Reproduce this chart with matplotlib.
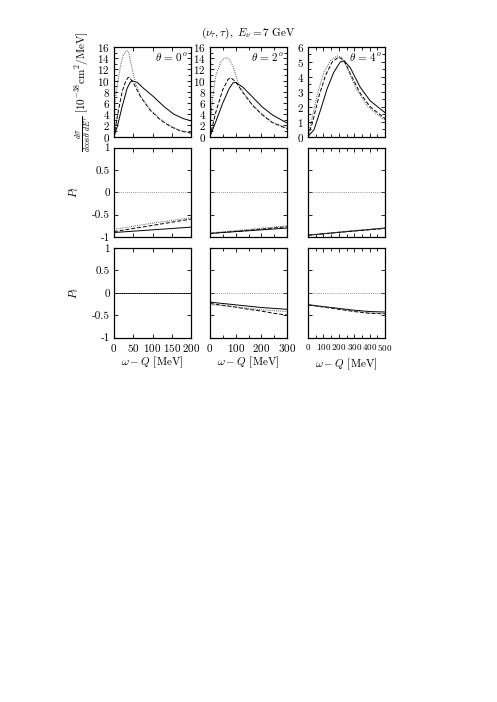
import matplotlib
matplotlib.use('Agg')
import matplotlib.pyplot as plt
from matplotlib.ticker import MultipleLocator

plt.rcParams['font.family'] = 'serif'
plt.rcParams['font.serif'] = ['cmr10']
plt.rcParams['mathtext.fontset'] = 'cm'
plt.rcParams['axes.unicode_minus'] = False
plt.rcParams['axes.formatter.use_mathtext'] = True
plt.rcParams['font.size'] = 8

# cross section, theta = 0, 2, 4 deg  (x in MeV, y in 1e-38 cm^2/MeV)
xs0_solid = [0, 8.6, 21, 34, 42, 47, 60, 77, 103, 129, 155, 180, 200]
ys0_solid = [0, 1.8, 5.3, 8.6, 9.7, 9.95, 9.7, 8.6, 7.1, 5.4, 4.0, 3.2, 2.8]
xs0_dash = [0, 8.6, 21, 30, 36, 40, 51, 69, 94, 120, 146, 172, 200]
ys0_dash = [0, 3.6, 8.0, 9.8, 10.5, 10.6, 9.5, 7.1, 4.7, 3.0, 1.8, 1.0, 0.6]
xs0_dot = [0, 1, 3, 8.6, 17, 24, 30, 35, 39, 47, 56, 69, 94, 120, 146, 172, 200]
ys0_dot = [0, 4, 6.5, 9.2, 12.7, 14.5, 15.2, 15.3, 14.8, 12.1, 9.5, 7.2, 4.8, 3.1, 1.9, 1.1, 0.7]

xs2_solid = [0, 23, 49, 75, 90, 98, 126, 165, 203, 242, 300]
ys2_solid = [0, 2.7, 5.9, 8.6, 9.6, 9.7, 8.9, 7.1, 5.3, 3.9, 2.4]
xs2_dash = [0, 23, 49, 70, 81, 100, 126, 165, 203, 242, 300]
ys2_dash = [0, 4.4, 8.3, 10.2, 10.5, 9.8, 8.0, 5.6, 3.9, 2.5, 1.4]
xs2_dot = [0, 3, 10, 23, 42, 55, 64, 75, 90, 100, 113, 126, 165, 203, 242, 300]
ys2_dot = [0, 3.5, 6.8, 11.0, 13.3, 14.0, 14.1, 13.8, 12.5, 11.0, 9.2, 8.1, 5.7, 4.0, 2.6, 1.5]

xs4_solid = [0, 39, 82, 124, 167, 210, 236, 275, 339, 403, 500]
ys4_solid = [0, 0.45, 1.8, 3.2, 4.3, 5.0, 5.07, 4.6, 3.3, 2.4, 1.6]
xs4_dash = [0, 28, 71, 114, 157, 200, 232, 253, 275, 339, 403, 500]
ys4_dash = [0, 0.9, 2.7, 4.1, 5.0, 5.33, 5.1, 4.7, 4.2, 2.9, 2.0, 1.2]
xs4_dot = [0, 17, 60, 103, 146, 189, 221, 253, 318, 382, 446, 500]
ys4_dot = [0, 0.8, 2.8, 4.3, 5.1, 5.4, 5.3, 4.6, 3.1, 2.1, 1.5, 1.1]

# longitudinal polarization P_l
pl0_x = [0, 100, 200]
pl0_solid = [-0.9, -0.84, -0.78]
pl0_dash = [-0.88, -0.74, -0.60]
pl0_dot = [-0.83, -0.69, -0.57]
pl2_x = [0, 150, 300]
pl2_solid = [-0.92, -0.86, -0.80]
pl2_dash = [-0.92, -0.85, -0.77]
pl2_dot = [-0.91, -0.83, -0.75]
pl4_x = [0, 250, 500]
pl4_solid = [-0.96, -0.88, -0.80]
pl4_dash = [-0.96, -0.88, -0.81]
pl4_dot = [-0.96, -0.87, -0.80]

# transverse polarization P_t
pt0_x = [0, 200]
pt0_solid = [0, 0]
pt0_dash = [0, 0]
pt0_dot = [0, 0]
pt2_x = [0, 50, 100, 150, 200, 250, 300]
pt2_solid = [-0.21, -0.24, -0.27, -0.30, -0.33, -0.35, -0.37]
pt2_dash = [-0.24, -0.28, -0.32, -0.37, -0.41, -0.46, -0.50]
pt2_dot = [-0.26, -0.29, -0.32, -0.35, -0.38, -0.40, -0.42]
pt4_x = [0, 100, 200, 300, 400, 500]
pt4_solid = [-0.27, -0.31, -0.35, -0.39, -0.42, -0.43]
pt4_dash = [-0.27, -0.32, -0.37, -0.42, -0.46, -0.47]
pt4_dot = [-0.26, -0.31, -0.36, -0.41, -0.45, -0.46]

angles = ['0', '2', '4']
xmax = [200, 300, 500]
xmajor = [50, 100, 100]
xtick_size = [8, 8, 6.5]
xlabel_pad = [1, 1, 2.5]
cs_ymax = [16, 16, 6]
cs_ystep = [2, 2, 1]
pol_ticks = [-1, -0.5, 0, 0.5, 1]
pol_labels = ['-1', '-0.5', '0', '0.5', '1']

cs_data = [
    (xs0_solid, ys0_solid, xs0_dash, ys0_dash, xs0_dot, ys0_dot),
    (xs2_solid, ys2_solid, xs2_dash, ys2_dash, xs2_dot, ys2_dot),
    (xs4_solid, ys4_solid, xs4_dash, ys4_dash, xs4_dot, ys4_dot),
]
pl_data = [
    (pl0_x, pl0_solid, pl0_dash, pl0_dot),
    (pl2_x, pl2_solid, pl2_dash, pl2_dot),
    (pl4_x, pl4_solid, pl4_dash, pl4_dot),
]
pt_data = [
    (pt0_x, pt0_solid, pt0_dash, pt0_dot),
    (pt2_x, pt2_solid, pt2_dash, pt2_dot),
    (pt4_x, pt4_solid, pt4_dash, pt4_dot),
]

W, H = 497, 702
fig = plt.figure(figsize=(W / 100, H / 100), dpi=100)


def pos(left, top, w, h):
    return [left / W, 1 - (top + h) / H, w / W, h / H]


col_left = [114, 210, 308]
row_top = [47, 147.5, 248]
aw, ah = 77, 89.5

lw = 0.7
solid_kw = dict(color='black', lw=lw, ls='-')
dash_kw = dict(color='black', lw=lw, ls=(0, (4, 2)))
dot_kw = dict(color='#555555', lw=lw, ls=(0, (1, 1.2)))


def style(ax, c):
    ax.set_xlim(0, xmax[c])
    ax.xaxis.set_major_locator(MultipleLocator(xmajor[c]))
    ax.xaxis.set_minor_locator(MultipleLocator(50))
    ax.tick_params(which='both', direction='in', top=True, right=True, pad=3)
    ax.tick_params(which='major', length=3, width=0.6)
    ax.tick_params(which='minor', length=2, width=0.6)
    ax.tick_params(axis='x', labelsize=xtick_size[c])
    for s in ax.spines.values():
        s.set_linewidth(0.9)


for c in range(3):
    # cross section
    ax = fig.add_axes(pos(col_left[c], row_top[0], aw, ah))
    xs, ys, xd, yd, xt, yt = cs_data[c]
    ax.plot(xs, ys, **solid_kw)
    ax.plot(xd, yd, **dash_kw)
    ax.plot(xt, yt, **dot_kw)
    style(ax, c)
    ax.set_ylim(0, cs_ymax[c])
    ax.yaxis.set_major_locator(MultipleLocator(cs_ystep[c]))
    ax.yaxis.set_minor_locator(MultipleLocator(cs_ystep[c] / 2))
    ax.set_xticklabels([])
    ax.text(0.95, 0.88, r'$\theta\,=\,%s^o$' % angles[c], transform=ax.transAxes,
            ha='right', va='center', fontsize=8)
    if c == 0:
        ax.set_ylabel(r"$\frac{d\sigma}{d\cos\theta\ dE'}$ [$10^{-38}$cm$^2$/MeV]", labelpad=2)

    # P_l and P_t
    for r, data, lab in [(1, pl_data[c], r'$P_l$'), (2, pt_data[c], r'$P_t$')]:
        ax = fig.add_axes(pos(col_left[c], row_top[r], aw, ah))
        x, s, d, t = data
        ax.axhline(0, color='#777777', lw=0.6, ls=(0, (1, 1.5)))
        ax.plot(x, s, **solid_kw)
        ax.plot(x, d, **dash_kw)
        ax.plot(x, t, **dot_kw)
        style(ax, c)
        ax.set_ylim(-1, 1)
        ax.set_yticks(pol_ticks)
        if c == 0:
            ax.set_yticklabels(pol_labels)
            ax.set_ylabel(lab, labelpad=8)
        else:
            ax.set_yticklabels([])
        if r == 2:
            ax.set_xlabel(r'$\omega - Q$ [MeV]', labelpad=xlabel_pad[c], fontsize=8)
        else:
            ax.set_xticklabels([])

fig.text(0.499, 0.953, r'$(\nu_\tau,\tau),\ E_\nu = 7$ GeV', ha='center', va='center', fontsize=8)

fig.savefig('out.png', dpi=100)
